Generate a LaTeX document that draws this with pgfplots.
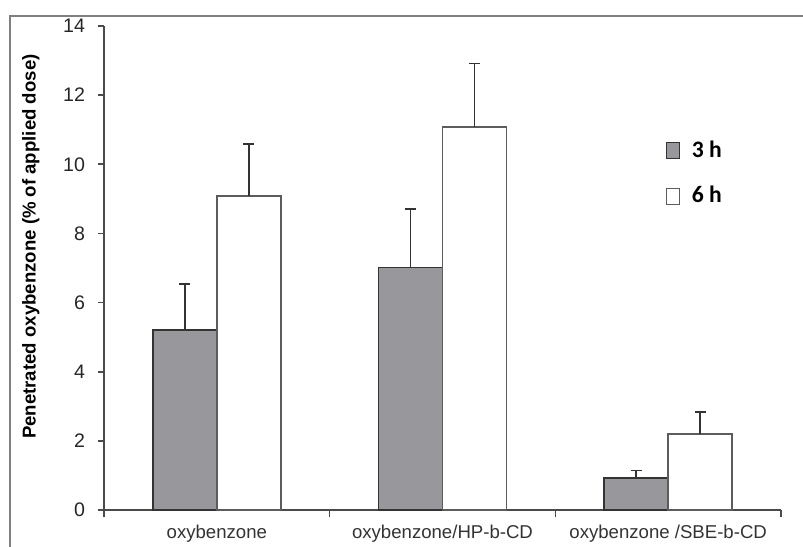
\documentclass[border=0pt]{standalone}
\usepackage{pgfplots}
\pgfplotsset{compat=1.18}
\usepackage{fontspec}
\setmainfont{Liberation Sans}
\newfontfamily\legfont{Carlito}
\definecolor{barg}{HTML}{98979C}
\definecolor{edge}{HTML}{333333}
\definecolor{axc}{HTML}{4A4A4A}
\begin{document}
\begin{tikzpicture}
\begin{axis}[
  scale only axis, width=338.5pt, height=242pt,
  xmin=0, xmax=3, ymin=0, ymax=14,
  axis x line*=bottom, axis y line*=left,
  axis line style={axc, line width=0.8pt},
  ytick={0,2,...,14},
  xtick={0.5,1.5,2.5},
  xticklabels={oxybenzone, oxybenzone/HP-b-CD, oxybenzone /SBE-b-CD},
  minor xtick={0,1,2,3},
  major x tick style={draw=none},
  minor x tick style={axc, line width=0.8pt},
  ytick style={axc, line width=0.8pt},
  tick align=outside, major tick length=3pt, minor tick length=3.5pt,
  yticklabel style={font=\fontsize{9.8}{10}\selectfont, text=black!85, xshift=-3pt},
  xticklabel style={font=\fontsize{9.3}{10}\selectfont, text=black!80, yshift=-1pt},
  /pgf/number format/assume math mode=true,
  ylabel={\textbf{Penetrated oxybenzone (\% of applied dose)}},
  ylabel style={font=\fontsize{9.3}{10}\selectfont, at={(axis description cs:-0.108,0.544)}, anchor=center, rotate=0},
  ybar=0pt, bar width=0.284,
  clip=false,
  legend style={draw=none, fill=none, at={(axis description cs:0.82,0.78)}, anchor=north west,
    font=\legfont\bfseries\fontsize{11.8}{13}\selectfont, row sep=9pt},
  legend image code/.code={\draw[#1, line width=0.7pt] (0pt,-4pt) rectangle (6.5pt,4pt);},
  legend cell align=left,
]
\addplot[fill=barg, draw=edge, line width=0.8pt,
  error bars/.cd, y dir=plus, y explicit,
  error bar style={edge, line width=0.8pt},
  error mark options={edge, line width=0.8pt, mark size=2.75pt, rotate=90}]
  coordinates {(0.5,5.2) +- (0,1.33) (1.5,7.02) +- (0,1.68) (2.5,0.92) +- (0,0.22)};
\addplot[fill=white, draw=edge!80, line width=0.8pt,
  error bars/.cd, y dir=plus, y explicit,
  error bar style={edge, line width=0.8pt},
  error mark options={edge, line width=0.8pt, mark size=2.75pt, rotate=90}]
  coordinates {(0.5,9.08) +- (0,1.5) (1.5,11.07) +- (0,1.85) (2.5,2.2) +- (0,0.63)};
\legend{\hspace{4pt}3 h, \hspace{4pt}6 h}
\coordinate (bbsw) at (axis description cs:-0.1536,-0.0764);
\coordinate (bbne) at (axis description cs:1.0325,1.0537);
\draw[gray, line width=0.9pt] (axis description cs:-0.1388,-0.0764) -- (axis description cs:-0.1388,1.0207) -- (axis description cs:1.0325,1.0207);
\end{axis}
\pgfresetboundingbox
\useasboundingbox (bbsw) rectangle (bbne);
\end{tikzpicture}
\end{document}
